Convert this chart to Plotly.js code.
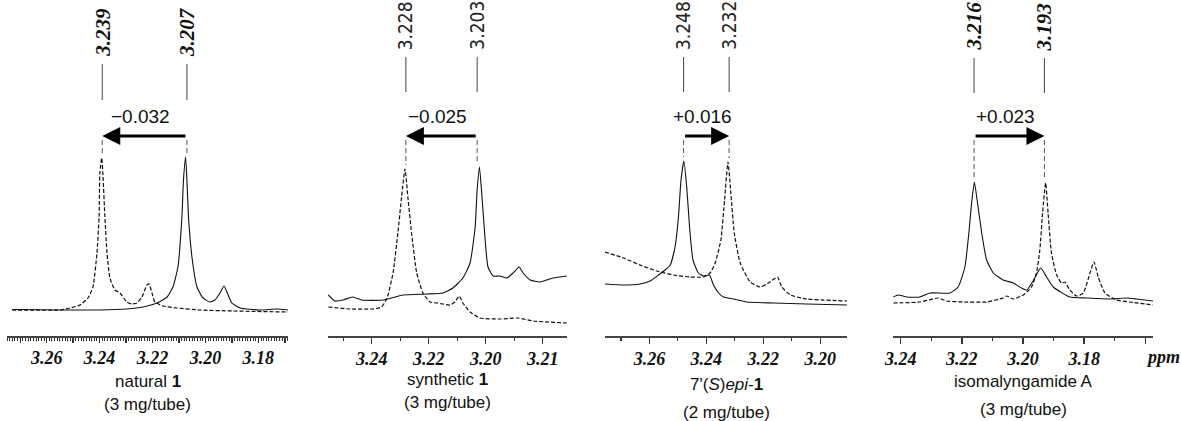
<!DOCTYPE html>
<html>
<head>
<meta charset="utf-8">
<script src="https://cdn.plot.ly/plotly-3.0.1.min.js"></script>
<style>html,body{margin:0;padding:0;background:#fff;}#chart{width:1181px;height:421px;}</style>
</head>
<body>
<div id="chart"></div>
<script>
// ---------- data (ppm, relative intensity) ----------
// Panel 1: natural 1
const ppmSolid1 = [3.2731,3.2399,3.2297,3.2236,3.2183,3.2145,3.2123,3.2104,3.2089,3.2083,3.2075,3.2070,3.2064,3.2051,3.2032,3.2009,3.1983,3.1964,3.1945,3.1930,3.1919,3.1900,3.1869,3.1794,3.1730,3.1688];
const intSolid1 = [0.265,0.26,0.27,0.29,0.33,0.39,0.49,0.69,1.19,1.56,1.79,1.56,1.19,0.79,0.49,0.38,0.34,0.36,0.43,0.50,0.44,0.33,0.28,0.26,0.27,0.26];
const ppmDash1 = [3.2731,3.2550,3.2512,3.2474,3.2444,3.2425,3.2410,3.2402,3.2399,3.2392,3.2387,3.2380,3.2372,3.2361,3.2342,3.2323,3.2297,3.2278,3.2259,3.2240,3.2221,3.2213,3.2202,3.2191,3.2160,3.2107,3.2021,3.1896,3.1688];
const intDash1 = [0.26,0.26,0.28,0.31,0.38,0.49,0.83,1.19,1.63,1.78,1.59,1.19,0.83,0.58,0.46,0.43,0.34,0.32,0.33,0.39,0.51,0.52,0.43,0.34,0.30,0.28,0.26,0.25,0.24];
// Panel 2: synthetic 1
const ppmSolid2 = [3.2552,3.2529,3.2501,3.2466,3.2435,3.2360,3.2290,3.2207,3.2150,3.2115,3.2080,3.2055,3.2037,3.2030,3.2022,3.2014,3.2002,3.1992,3.1974,3.1950,3.1926,3.1904,3.1883,3.1869,3.1844,3.1809,3.1764,3.1716];
const intSolid2 = [0.41,0.35,0.36,0.39,0.36,0.36,0.41,0.42,0.43,0.48,0.58,0.73,1.09,1.46,1.69,1.43,0.96,0.69,0.60,0.60,0.58,0.63,0.69,0.63,0.56,0.54,0.58,0.60];
const ppmDash2 = [3.2552,3.2476,3.2395,3.2365,3.2346,3.2325,3.2308,3.2295,3.2283,3.2273,3.2260,3.2242,3.2220,3.2195,3.2172,3.2150,3.2125,3.2108,3.2093,3.2080,3.2055,3.2020,3.1950,3.1887,3.1834,3.1716];
const intDash2 = [0.29,0.27,0.27,0.29,0.38,0.63,1.03,1.39,1.67,1.39,1.03,0.63,0.43,0.34,0.33,0.32,0.31,0.34,0.40,0.33,0.24,0.18,0.17,0.18,0.15,0.13];
// Panel 3: 7'(S)epi-1
const ppmSolid3 = [3.2756,3.2691,3.2633,3.2598,3.2568,3.2545,3.2527,3.2510,3.2498,3.2489,3.2479,3.2469,3.2459,3.2447,3.2428,3.2410,3.2389,3.2375,3.2357,3.2340,3.2305,3.2258,3.2164,3.2047,3.1906];
const intSolid3 = [0.52,0.51,0.52,0.55,0.61,0.66,0.71,0.89,1.19,1.56,1.75,1.49,1.09,0.76,0.63,0.60,0.61,0.51,0.43,0.39,0.37,0.34,0.33,0.32,0.31];
const ppmDash3 = [3.2756,3.2691,3.2633,3.2574,3.2516,3.2457,3.2410,3.2387,3.2369,3.2349,3.2336,3.2324,3.2314,3.2302,3.2281,3.2246,3.2211,3.2182,3.2150,3.2135,3.2105,3.2047,3.1906];
const intDash3 = [0.84,0.78,0.71,0.65,0.61,0.59,0.59,0.63,0.73,0.96,1.36,1.74,1.43,1.03,0.73,0.54,0.49,0.53,0.59,0.49,0.41,0.37,0.35];
// Panel 4: isomalyngamide A
const ppmSolid4 = [3.2424,3.2408,3.2380,3.2337,3.2304,3.2239,3.2212,3.2190,3.2177,3.2168,3.2159,3.2150,3.2135,3.2119,3.2097,3.2065,3.2032,3.2005,3.1988,3.1967,3.1942,3.1923,3.1901,3.1847,3.1792,3.1716,3.1661,3.1629,3.1575];
const intSolid4 = [0.39,0.41,0.39,0.39,0.43,0.43,0.49,0.69,1.03,1.33,1.54,1.36,1.03,0.76,0.63,0.56,0.53,0.48,0.46,0.55,0.68,0.59,0.49,0.39,0.38,0.37,0.38,0.37,0.35];
const ppmDash4 = [3.2424,3.2337,3.2277,3.2250,3.2195,3.2119,3.2065,3.2054,3.2032,3.1999,3.1972,3.1956,3.1945,3.1936,3.1926,3.1918,3.1907,3.1890,3.1874,3.1863,3.1847,3.1825,3.1803,3.1781,3.1768,3.1754,3.1732,3.1694,3.1651,3.1575];
const intDash4 = [0.33,0.34,0.38,0.35,0.34,0.34,0.38,0.40,0.37,0.41,0.49,0.63,0.86,1.23,1.53,1.23,0.83,0.61,0.53,0.54,0.46,0.40,0.43,0.63,0.74,0.59,0.43,0.36,0.34,0.31];

// peak positions and shifts
const peakLeft  = [3.239, 3.228, 3.248, 3.216];
const peakRight = [3.207, 3.203, 3.232, 3.193];
const shiftLabels = ['\u22120.032', '\u22120.025', '+0.016', '+0.023'];
const arrowToLeft = [true, true, false, false];
const panelNames = ['natural <b>1</b>', 'synthetic <b>1</b>', "7'(<i>S</i>)<i>epi</i>-<b>1</b>", 'isomalyngamide A'];
const panelNotes = ['(3 mg/tube)', '(3 mg/tube)', '(2 mg/tube)', '(3 mg/tube)'];

// tick labels
const tickVals1 = [3.26, 3.24, 3.22, 3.20, 3.18];
const tickText1 = ['3.26', '3.24', '3.22', '3.20', '3.18'];
const tickVals2 = [3.24, 3.22, 3.20, 3.18];
const tickText2 = ['3.24', '3.22', '3.20', '3.21'];
const tickVals3 = [3.26, 3.24, 3.22, 3.20];
const tickText3 = ['3.26', '3.24', '3.22', '3.20'];
const tickVals4 = [3.24, 3.22, 3.20, 3.18, 3.16];
const tickText4 = ['3.24', '3.22', '3.20', '3.18', ''];
const unitLabel = 'ppm';

// ---------- layout helpers ----------
const W = 1181, H = 421;
const py = p => (H - p) / H;
const px = p => p / W;
const domainsPx = [[7, 288], [328, 567], [605, 847], [893, 1153]];
const ranges = [[3.275, 3.1688], [3.2553, 3.1715], [3.2756, 3.1906], [3.2425, 3.1575]];
const axisPx = 336;

const series = [
  [ppmSolid1, intSolid1, ppmDash1, intDash1],
  [ppmSolid2, intSolid2, ppmDash2, intDash2],
  [ppmSolid3, intSolid3, ppmDash3, intDash3],
  [ppmSolid4, intSolid4, ppmDash4, intDash4]
];
const ticks = [[tickVals1, tickText1], [tickVals2, tickText2], [tickVals3, tickText3], [tickVals4, tickText4]];

const traces = [];
const layout = {
  width: W, height: H,
  margin: {l: 0, r: 0, t: 0, b: 0},
  paper_bgcolor: '#fff', plot_bgcolor: 'rgba(0,0,0,0)',
  showlegend: false,
  annotations: [], shapes: []
};

const tickFont = {family: 'Liberation Serif, Times New Roman, serif', size: 18, color: '#111', weight: 'bold', style: 'italic'};
const peakSerif = {family: 'Liberation Serif, Times New Roman, serif', size: 21, color: '#111', weight: 'bold', style: 'italic'};
const sans = {family: 'Liberation Sans, Arial, sans-serif', size: 17, color: '#111'};
const narrow = {family: 'DejaVu Sans Condensed, Liberation Sans, sans-serif', size: 19, color: '#222'};
const labelFonts = [peakSerif, narrow, narrow, peakSerif];
const lineTop = [64, 57, 57, 58];
const lineBot = [100, 92, 92, 93];
const nameY = [381, 379, 384, 381];
const noteY = [404, 402, 412, 409];

for (let i = 0; i < 4; i++) {
  const n = i === 0 ? '' : String(i + 1);
  const xa = 'x' + n, ya = 'y' + n;
  const [sx, sy, dx, dy] = series[i];
  traces.push({x: sx, y: sy, xaxis: xa, yaxis: ya, mode: 'lines', type: 'scatter',
    line: {color: '#111', width: 1.1, shape: 'spline', smoothing: 0.5}, hoverinfo: 'skip'});
  traces.push({x: dx, y: dy, xaxis: xa, yaxis: ya, mode: 'lines', type: 'scatter',
    line: {color: '#111', width: 1.2, dash: '4px,2px', shape: 'spline', smoothing: 0.5}, hoverinfo: 'skip'});

  let tv = ticks[i][0], tt = ticks[i][1];
  let minor = {tickmode: 'linear', tick0: 3.0, dtick: 0.01, ticks: 'outside', ticklen: 3, tickwidth: 1.2, tickcolor: '#333', showgrid: false};
  if (i === 0) {
    // ruler-like axis: unlabeled ticks every 0.01, minor every 0.001
    const allv = [], allt = [];
    for (let k = 0; k <= 10; k++) {
      const v = Math.round((3.17 + k * 0.01) * 1000) / 1000;
      allv.push(v);
      const j = tv.findIndex(t => Math.abs(t - v) < 1e-6);
      allt.push(j >= 0 ? tt[j] : '');
    }
    tv = allv; tt = allt;
    minor = {tickmode: 'linear', tick0: 3.0, dtick: 0.001, ticks: 'outside', ticklen: 3, tickwidth: 1, tickcolor: '#333', showgrid: false};
  }
  layout['xaxis' + n] = {
    domain: [px(domainsPx[i][0]), px(domainsPx[i][1])],
    range: ranges[i], anchor: ya,
    tickmode: 'array', tickvals: tv, ticktext: tt,
    ticks: 'outside', ticklen: i === 0 ? 5 : 6, tickwidth: 1.4, tickcolor: '#333',
    showline: true, linecolor: '#444', linewidth: 1.5,
    showgrid: false, zeroline: false, fixedrange: true,
    tickfont: tickFont, minor: minor
  };
  layout['yaxis' + n] = {
    domain: [py(axisPx), 1], range: [0, axisPx / 100], anchor: xa,
    visible: false, showgrid: false, zeroline: false, fixedrange: true
  };

  const pL = peakLeft[i], pR = peakRight[i];
  // peak value labels + upper guide lines
  [pL, pR].forEach(p => {
    layout.annotations.push({x: p, xref: xa, y: py(lineTop[i] - 5), yref: 'paper',
      text: p.toFixed(3), textangle: -90, showarrow: false, xanchor: 'center', yanchor: 'bottom',
      font: labelFonts[i]});
    layout.shapes.push({type: 'line', xref: xa, yref: 'paper', x0: p, x1: p,
      y0: py(lineBot[i]), y1: py(lineTop[i]), line: {color: '#444', width: 1}});
  });
  // lower dashed guides from arrow to peak tops
  const maxS = Math.max(...sy), maxD = Math.max(...dy);
  const leftTop = sx[sy.indexOf(maxS)] > dx[dy.indexOf(maxD)] ? maxS : maxD;
  const rightTop = leftTop === maxS ? maxD : maxS;
  [[pL, leftTop], [pR, rightTop]].forEach(([p, top]) => {
    layout.shapes.push({type: 'line', xref: xa, yref: ya, x0: p, x1: p,
      y0: 1.96, y1: top + 0.04, line: {color: '#555', width: 1, dash: '5px,3px'}});
  });
  // arrow
  const head = arrowToLeft[i] ? pL : pR;
  const tail = arrowToLeft[i] ? pR : pL;
  layout.annotations.push({x: head, y: 2.0, xref: xa, yref: ya, ax: tail, ay: 2.0, axref: xa, ayref: ya,
    text: '', showarrow: true, arrowhead: 2, arrowsize: 1.2, arrowwidth: 3, arrowcolor: '#000', standoff: 0, startstandoff: 0});
  layout.annotations.push({x: (pL + pR) / 2, xref: xa, y: py(116), yref: 'paper', xshift: -4,
    text: shiftLabels[i], showarrow: false, xanchor: 'center', yanchor: 'middle',
    font: {family: 'Liberation Sans, Arial, sans-serif', size: 19, color: '#111'}});
  // panel captions
  const cx = (domainsPx[i][0] + domainsPx[i][1]) / 2;
  layout.annotations.push({x: px(cx), xref: 'paper', y: py(nameY[i]), yref: 'paper',
    text: panelNames[i], showarrow: false, xanchor: 'center', yanchor: 'middle', font: sans});
  layout.annotations.push({x: px(cx), xref: 'paper', y: py(noteY[i]), yref: 'paper',
    text: panelNotes[i], showarrow: false, xanchor: 'center', yanchor: 'middle', font: sans});
}
layout.annotations.push({x: px(1163), xref: 'paper', y: py(357), yref: 'paper',
  text: unitLabel, showarrow: false, xanchor: 'center', yanchor: 'middle', font: tickFont});

Plotly.newPlot('chart', traces, layout, {staticPlot: true, displayModeBar: false});
</script>
</body>
</html>
